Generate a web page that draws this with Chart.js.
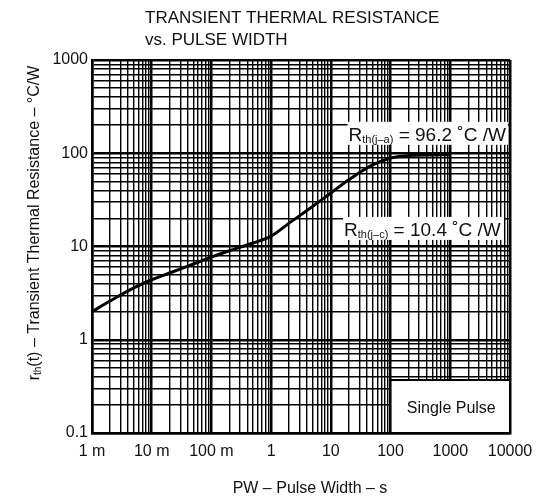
<!DOCTYPE html>
<html><head><meta charset="utf-8">
<script src="https://cdn.jsdelivr.net/npm/chart.js@4.4.0/dist/chart.umd.min.js"></script>
<style>html,body{margin:0;padding:0;background:#fff}#wrap{width:542px;height:502px}</style>
</head><body><div id="wrap"><canvas id="c" width="542" height="502"></canvas></div>
<script>
// ---- data ----
const pulseWidth = [0.001,0.002,0.005,0.01,0.02,0.05,0.1,0.2,0.5,1,2,5,10,20,50,100,200,500,1000];
const thermalRes = [2.0,2.6,3.6,4.4,5.2,6.5,7.7,9.0,10.9,12.9,17.8,27,37.5,52,75,89,94.5,96,96.2];
const xDecades = [0.001,0.01,0.1,1,10,100,1000,10000];
const xTickLabels = ["1 m","10 m","100 m","1","10","100","1000","10000"];
const yDecades = [0.1,1,10,100,1000];
const yTickLabels = ["0.1","1","10","100","1000"];
const rthJA = 96.2;
const rthJC = 10.4;
const singlePulseBox = {xFrom: 100, yTo: 0.37};

const FONT = '"Liberation Sans", Arial, Helvetica, sans-serif';

function logTicks(decs){
  const t=[];
  for(let i=0;i<decs.length;i++){
    const d=decs[i];
    if(i<decs.length-1){ for(let m=1;m<10;m++) t.push({value:+(d*m).toPrecision(6)}); }
    else t.push({value:d});
  }
  return t;
}
function decadeIndex(decs,v){ return decs.findIndex(d=>Math.abs(d-v)/d<1e-6); }

function drawParts(ctx, parts, x, y, align, rotate){
  let w=0;
  parts.forEach(p=>{ctx.font=p.size+'px '+FONT; p.w=ctx.measureText(p.t).width; w+=p.w;});
  ctx.save();
  ctx.translate(x,y);
  if(rotate) ctx.rotate(rotate);
  let cx = align==='center' ? -w/2 : (align==='right' ? -w : 0);
  ctx.textBaseline='alphabetic';
  ctx.textAlign='left';
  parts.forEach(p=>{ctx.font=p.size+'px '+FONT; ctx.fillText(p.t,cx,p.dy||0); cx+=p.w;});
  ctx.restore();
  return w;
}

const textPlugin = {
  id:'texts',
  afterDraw(chart){
    const ctx=chart.ctx, xs=chart.scales.x, ys=chart.scales.y, a=chart.chartArea;
    ctx.save();
    ctx.fillStyle='#111';
    // title
    drawParts(ctx,[{t:'TRANSIENT THERMAL RESISTANCE',size:17}],145,23,'left');
    drawParts(ctx,[{t:'vs. PULSE WIDTH',size:17}],145,45,'left');
    // axis titles
    drawParts(ctx,[{t:'PW \u2013 Pulse Width \u2013 s',size:16}],310,493,'center');
    drawParts(ctx,[{t:'r',size:16},{t:'th',size:10,dy:2},{t:'(t) \u2013 Transient Thermal Resistance \u2013 \u00b0C/W',size:16}],39,223,'center',-Math.PI/2);

    // Single Pulse box
    const sx=xs.getPixelForValue(singlePulseBox.xFrom), sy=ys.getPixelForValue(singlePulseBox.yTo);
    ctx.fillStyle='#fff';
    ctx.fillRect(sx,sy,a.right-sx,a.bottom-sy);
    ctx.strokeStyle='#000'; ctx.lineWidth=2;
    ctx.strokeRect(sx,sy,a.right-sx,a.bottom-sy);
    ctx.fillStyle='#111';
    drawParts(ctx,[{t:'Single Pulse',size:16}],(sx+a.right)/2+1,(sy+a.bottom)/2+6,'center');

    // Rth(j-a) label
    const yja=ys.getPixelForValue(rthJA);
    const x0=xs.getPixelForValue(19);
    ctx.fillStyle='#fff';
    ctx.fillRect(x0,yja-33,a.right-2-x0,23);
    ctx.fillStyle='#111';
    drawParts(ctx,[{t:'R',size:19},{t:'th(j\u2013a)',size:11,dy:2},{t:' = 96.2 \u02daC /W',size:19}],x0+1,yja-14,'left');

    // Rth(j-c) label
    const yjc=ys.getPixelForValue(rthJC);
    const x1=xs.getPixelForValue(16);
    ctx.fillStyle='#fff';
    ctx.fillRect(x1,yjc-28,a.right-6-x1,23);
    ctx.fillStyle='#111';
    drawParts(ctx,[{t:'R',size:19},{t:'th(j\u2013c)',size:11,dy:2},{t:' = 10.4 \u02daC /W',size:19}],x1+1,yjc-9,'left');
    ctx.restore();
  }
};

function gridOpts(decs){
  return {
    color:'#000',
    lineWidth: c => (c.tick && decadeIndex(decs,c.tick.value)>=0) ? 2.5 : 1.4,
    drawTicks:false
  };
}

new Chart(document.getElementById('c'),{
  type:'line',
  data:{datasets:[{
    data: pulseWidth.map((x,i)=>({x, y: thermalRes[i]})),
    borderColor:'#000', borderWidth:3, pointRadius:0,
    cubicInterpolationMode:'monotone', fill:false
  }]},
  options:{
    responsive:false, animation:false, devicePixelRatio:1,
    layout:{padding:{top:60,right:32,left:0,bottom:0}},
    plugins:{legend:{display:false},tooltip:{enabled:false},title:{display:false}},
    scales:{
      x:{
        type:'logarithmic', min:xDecades[0], max:xDecades[xDecades.length-1],
        afterBuildTicks: s => { s.ticks = logTicks(xDecades); },
        afterFit: s => { s.height = 69; },
        grid: gridOpts(xDecades),
        border:{display:true,color:'#000',width:2.5},
        ticks:{autoSkip:false,maxRotation:0,minRotation:0,padding:9,color:'#111',
          font:{family:FONT,size:16},
          callback:(v)=>{const i=decadeIndex(xDecades,v); return i>=0?xTickLabels[i]:'';}}
      },
      y:{
        type:'logarithmic', min:yDecades[0], max:yDecades[yDecades.length-1],
        afterBuildTicks: s => { s.ticks = logTicks(yDecades); },
        afterFit: s => { s.width = 92; },
        grid: gridOpts(yDecades),
        border:{display:true,color:'#000',width:2.5},
        ticks:{autoSkip:false,padding:4,color:'#111',
          font:{family:FONT,size:16},
          callback:(v)=>{const i=decadeIndex(yDecades,v); return i>=0?yTickLabels[i]:'';}}
      }
    }
  },
  plugins:[textPlugin]
});
</script></body></html>
